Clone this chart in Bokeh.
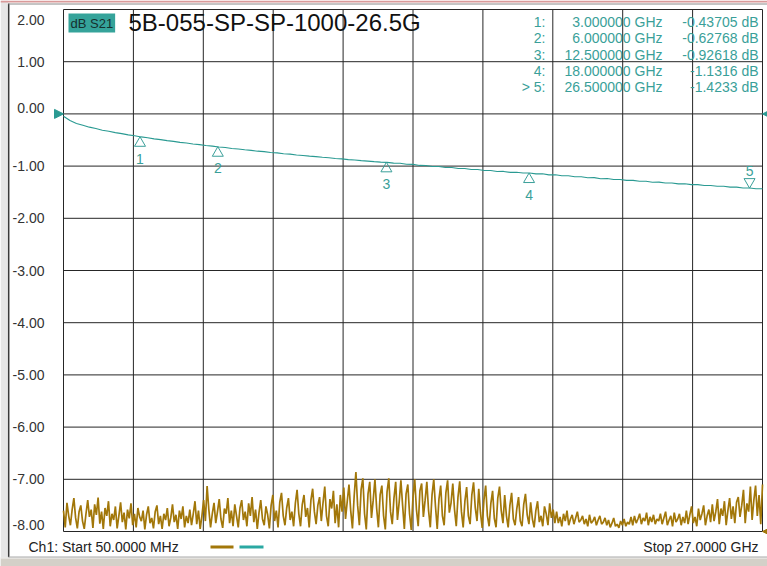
import numpy as np
from bokeh.plotting import figure
from bokeh.models import Range1d, Label, Arrow, NormalHead, ColumnDataSource
from bokeh.core.properties import value
from bokeh.embed import file_html
from bokeh.resources import INLINE

# ---------------- data ----------------
start_ghz = 0.05
stop_ghz = 27.0
y_ticks = [2, 1, 0, -1, -2, -3, -4, -5, -6, -7, -8]
y_tick_labels = ["2.00", "1.00", "0.00", "-1.00", "-2.00", "-3.00", "-4.00",
                 "-5.00", "-6.00", "-7.00", "-8.00"]

# S21 trace (dB) at evenly spaced sweep points
s21_db = [
    -0.045, -0.128, -0.183, -0.218, -0.254, -0.281, -0.312, -0.333, -0.359, -0.378,
    -0.402, -0.419, -0.441, -0.457, -0.478, -0.492, -0.512, -0.526, -0.545, -0.557,
    -0.576, -0.588, -0.606, -0.617, -0.634, -0.645, -0.662, -0.671, -0.688, -0.698,
    -0.714, -0.722, -0.739, -0.746, -0.763, -0.770, -0.788, -0.796, -0.808, -0.818,
    -0.831, -0.840, -0.854, -0.862, -0.876, -0.884, -0.896, -0.905, -0.915, -0.924,
    -0.929, -0.943, -0.946, -0.965, -0.966, -0.987, -0.988, -1.007, -1.008, -1.026,
    -1.028, -1.046, -1.047, -1.065, -1.066, -1.085, -1.084, -1.103, -1.102, -1.120,
    -1.118, -1.133, -1.131, -1.149, -1.148, -1.168, -1.166, -1.186, -1.184, -1.205,
    -1.203, -1.223, -1.221, -1.241, -1.238, -1.258, -1.256, -1.274, -1.274, -1.291,
    -1.291, -1.308, -1.307, -1.324, -1.323, -1.340, -1.339, -1.355, -1.355, -1.371,
    -1.371, -1.387, -1.387, -1.403, -1.402, -1.419, -1.419, -1.434, -1.435,
]

# second (gold) trace (dB), noisy band near the bottom, 15 points per GHz
trace2_db = [
    -7.60, -7.92, -7.45, -7.70, -7.88, -7.58, -7.36, -7.74, -7.94, -7.62, -7.50, -7.80, -7.95, -7.66, -7.40,
    -7.72, -7.58, -7.93, -7.48, -7.68, -7.35, -7.85, -7.62, -7.95, -7.55, -7.70, -7.42, -7.90, -7.66, -7.78,
    -7.52, -7.94, -7.70, -7.44, -7.82, -7.64, -7.96, -7.58, -7.75, -7.46, -7.88, -7.66, -7.92, -7.55, -7.72,
    -7.80, -7.60, -7.96, -7.68, -7.52, -7.84, -7.74, -7.94, -7.62, -7.50, -7.86, -7.70, -7.95, -7.66, -7.78,
    -7.55, -7.90, -7.74, -7.48, -7.82, -7.68, -7.95, -7.60, -7.76, -7.52, -7.92, -7.70, -7.84, -7.58, -7.88,
    -7.66, -7.42, -7.86, -7.60, -7.95, -7.70, -7.40, -7.80, -7.13, -7.58, -7.92, -7.66, -7.45, -7.84, -7.62,
    -7.38, -7.76, -7.93, -7.56, -7.66, -7.36, -7.84, -7.60, -7.90, -7.48, -7.70, -7.92, -7.55, -7.40, -7.78,
    -7.62, -7.90, -7.46, -7.70, -7.34, -7.82, -7.58, -7.95, -7.64, -7.40, -7.76, -7.88, -7.52, -7.68, -7.94,
    -7.50, -7.30, -7.80, -7.60, -7.92, -7.44, -7.26, -7.70, -7.88, -7.55, -7.36, -7.78, -7.62, -7.90, -7.46,
    -7.20, -7.66, -7.90, -7.48, -7.30, -7.72, -7.55, -7.92, -7.40, -7.18, -7.62, -7.86, -7.50, -7.34, -7.80,
    -7.45, -7.14, -7.70, -7.90, -7.38, -7.56, -7.22, -7.84, -7.48, -7.92, -7.30, -7.62, -7.16, -7.76, -7.42,
    -7.10, -7.60, -7.94, -7.32, -6.86, -7.50, -7.88, -7.20, -6.98, -7.66, -7.96, -7.28, -7.05, -7.74, -7.40,
    -7.00, -7.56, -7.92, -7.30, -7.12, -7.70, -7.96, -7.24, -6.98, -7.62, -7.86, -7.36, -7.05, -7.78, -7.44,
    -7.02, -7.50, -7.95, -7.28, -7.10, -7.66, -7.97, -7.34, -7.00, -7.58, -7.90, -7.22, -7.08, -7.72, -7.40,
    -7.05, -7.60, -7.92, -7.30, -7.00, -7.52, -7.95, -7.38, -7.12, -7.70, -7.88, -7.26, -7.02, -7.64, -7.45,
    -7.08, -7.58, -7.90, -7.34, -7.04, -7.62, -7.92, -7.42, -7.15, -7.70, -7.86, -7.30, -7.06, -7.55, -7.80,
    -7.18, -7.64, -7.93, -7.40, -7.12, -7.70, -7.90, -7.46, -7.22, -7.75, -7.92, -7.36, -7.14, -7.60, -7.84,
    -7.30, -7.70, -7.92, -7.50, -7.26, -7.76, -7.88, -7.56, -7.34, -7.80, -7.90, -7.48, -7.28, -7.68, -7.86,
    -7.44, -7.76, -7.92, -7.60, -7.42, -7.82, -7.70, -7.90, -7.52, -7.66, -7.88, -7.46, -7.74, -7.58, -7.84,
    -7.62, -7.84, -7.72, -7.90, -7.66, -7.80, -7.60, -7.88, -7.76, -7.68, -7.86, -7.74, -7.62, -7.82, -7.78,
    -7.70, -7.86, -7.76, -7.90, -7.68, -7.84, -7.80, -7.72, -7.88, -7.78, -7.70, -7.86, -7.82, -7.74, -7.88,
    -7.78, -7.92, -7.84, -7.74, -7.90, -7.86, -7.93, -7.80, -7.88, -7.76, -7.90, -7.82, -7.86, -7.72, -7.88,
    -7.70, -7.84, -7.76, -7.66, -7.86, -7.74, -7.80, -7.64, -7.88, -7.72, -7.82, -7.68, -7.86, -7.76, -7.80,
    -7.66, -7.86, -7.74, -7.62, -7.88, -7.78, -7.70, -7.90, -7.64, -7.82, -7.76, -7.66, -7.88, -7.72, -7.84,
    -7.60, -7.86, -7.68, -7.52, -7.84, -7.72, -7.90, -7.56, -7.78, -7.66, -7.50, -7.88, -7.70, -7.58, -7.82,
    -7.48, -7.80, -7.62, -7.38, -7.86, -7.56, -7.70, -7.42, -7.88, -7.60, -7.36, -7.76, -7.52, -7.84, -7.44,
    -7.34, -7.72, -7.50, -7.20, -7.84, -7.46, -7.62, -7.14, -7.78, -7.40, -7.12, -7.70, -7.30, -7.86, -7.10,
]

marker_ghz = [3.0, 6.0, 12.5, 18.0, 26.5]
marker_db = [-0.43705, -0.62768, -0.92618, -1.1316, -1.4233]
marker_names = ["1", "2", "3", "4", "5"]
marker_index = ["1:", "2:", "3:", "4:", "> 5:"]
marker_value_text = ["-0.43705 dB", "-0.62768 dB", "-0.92618 dB", "-1.1316 dB", "-1.4233 dB"]

title_text = "5B-055-SP-SP-1000-26.5G"
trace_tag = "dB S21"
start_text = "Ch1: Start 50.0000 MHz"
stop_text = "Stop 27.0000 GHz"

# sweep points (linear sweep from Start to Stop)
s21_ghz = np.linspace(start_ghz, stop_ghz, len(s21_db))
trace2_ghz = np.linspace(start_ghz, stop_ghz, len(trace2_db))

# ---------------- layout ----------------
W, H = 767, 566            # canvas
PL, PR = 63, 762           # graticule left / right (canvas px)
PT, PB = 9, 531            # graticule top / bottom (canvas px)
ymin, ymax = min(y_ticks), max(y_ticks)
ppg = (PR - PL) / (stop_ghz - start_ghz)
ppd = (PB - PT) / (ymax - ymin)


def X(px):
    """canvas pixel column -> data x (for window decorations only)"""
    return start_ghz + (px - PL) / ppg


def Y(py):
    """canvas pixel row -> data y (for window decorations only)"""
    return ymax - (py - PT) / ppd


TEAL = "#2A9A92"
TEAL_TXT = "#3A9F99"
TEAL_BOX = "#35A39A"
GOLD = "#A27709"
GRID = "#262626"
FONT = "Liberation Sans"

xr = Range1d(X(0), X(W))
yr = Range1d(Y(H), Y(0))

p = figure(width=W, height=H, x_range=xr, y_range=yr,
           x_axis_location=None, y_axis_location=None,
           output_backend="svg", toolbar_location=None, min_border=0,
           background_fill_color="white", border_fill_color="white")
p.title.visible = False
p.outline_line_color = None
p.xgrid.visible = False
p.ygrid.visible = False

# window chrome: left strip, left edge, top edge, status bar
p.quad(left=[X(0)], right=[X(7.5)], top=[Y(0)], bottom=[Y(H)], fill_color="#E6E6E6", line_color=None)
p.segment(x0=[X(8.2)], y0=[Y(557)], x1=[X(8.2)], y1=[Y(3)], line_color="#3A3A3A", line_width=1.5)
p.segment(x0=[X(0)], y0=[Y(1)], x1=[X(W)], y1=[Y(1)], line_color="#D99A9A", line_width=2)
p.segment(x0=[X(8)], y0=[Y(3.5)], x1=[X(W)], y1=[Y(3.5)], line_color="#8A8A8A", line_width=1)
p.quad(left=[X(0)], right=[X(W)], top=[Y(557)], bottom=[Y(H)], fill_color="#D4D0C8", line_color=None)
p.segment(x0=[X(0)], y0=[Y(557.5)], x1=[X(W)], y1=[Y(557.5)], line_color="#F4F4F4", line_width=1)
p.segment(x0=[X(8)], y0=[Y(556.5)], x1=[X(W)], y1=[Y(556.5)], line_color="#A8A8A8", line_width=1)

# graticule
x_grid_ticks = [start_ghz + k * (stop_ghz - start_ghz) / 10 for k in range(11)]
p.segment(x0=x_grid_ticks, y0=[ymin] * len(x_grid_ticks), x1=x_grid_ticks,
          y1=[ymax] * len(x_grid_ticks), line_color=GRID, line_width=1)
p.segment(x0=[start_ghz] * len(y_ticks), y0=y_ticks, x1=[stop_ghz] * len(y_ticks), y1=y_ticks,
          line_color=GRID, line_width=1)

# scale labels
nudge = {2: 10, 0: -6, -8: -7}
lsrc = ColumnDataSource(dict(x=[start_ghz] * len(y_ticks), y=y_ticks, t=y_tick_labels,
                             yoff=[nudge.get(t, 0) for t in y_ticks]))
p.text(x="x", y="y", text="t", y_offset="yoff", x_offset=-19, source=lsrc,
       text_align="right", text_baseline="middle", text_font=value(FONT),
       text_font_size="14px", text_color="#333333")

# traces
p.line(trace2_ghz, trace2_db, line_color=GOLD, line_width=1.7)
p.line(s21_ghz, s21_db, line_color=TEAL, line_width=1.1)

# markers
up = [i for i in range(len(marker_ghz)) if i < 4]
p.scatter(x=[marker_ghz[i] for i in up], y=[marker_db[i] - 6.4 / ppd for i in up],
          marker="triangle", size=11, fill_color=None, line_color=TEAL_TXT, line_width=1)
p.scatter(x=[marker_ghz[4]], y=[marker_db[4] + 6.4 / ppd], marker="inverted_triangle",
          size=11, fill_color=None, line_color=TEAL_TXT, line_width=1)
msrc = ColumnDataSource(dict(x=marker_ghz, y=marker_db, t=marker_names,
                             yoff=[22, 21, 22, 22, -17]))
p.text(x="x", y="y", text="t", y_offset="yoff", source=msrc, text_align="center",
       text_baseline="middle", text_font=value(FONT), text_font_size="14px", text_color=TEAL_TXT)

# reference level arrows
p.add_layout(Arrow(end=NormalHead(size=9, fill_color=TEAL, line_color=TEAL),
                   x_start=start_ghz - 1.0, y_start=0, x_end=start_ghz, y_end=0, line_alpha=0))
p.add_layout(Arrow(end=NormalHead(size=9, fill_color=TEAL, line_color=TEAL),
                   x_start=stop_ghz + 1.0, y_start=0, x_end=stop_ghz, y_end=0, line_alpha=0))
p.add_layout(Arrow(end=NormalHead(size=9, fill_color=GOLD, line_color=GOLD),
                   x_start=stop_ghz + 1.0, y_start=ymin, x_end=stop_ghz, y_end=ymin, line_alpha=0))

# marker readout table
rows = list(range(len(marker_ghz)))
rsrc = ColumnDataSource(dict(
    x=[stop_ghz] * len(rows), y=[ymax] * len(rows),
    idx=marker_index,
    fr=[f"{f:.6f} GHz" for f in marker_ghz],
    val=marker_value_text,
    yoff=[12.5 + 16.3 * i for i in rows]))
for col, xo in (("idx", -217), ("fr", -100), ("val", -4)):
    p.text(x="x", y="y", text=col, x_offset=xo, y_offset="yoff", source=rsrc,
           text_align="right", text_baseline="middle", text_font=value(FONT),
           text_font_size="14px", text_color=TEAL_TXT)

# title & trace tag
p.add_layout(Label(x=start_ghz, y=ymax, x_offset=5, y_offset=-13.5, text=trace_tag,
                   text_align="left", text_baseline="middle", text_font=FONT,
                   text_font_size="13px", text_color="#16302E",
                   background_fill_color=TEAL_BOX, background_fill_alpha=1, padding=2))
p.add_layout(Label(x=start_ghz, y=ymax, x_offset=65, y_offset=-12.5, text=title_text,
                   text_align="left", text_baseline="middle", text_font=FONT,
                   text_font_size="24px", text_color="#111111"))

# status line
p.add_layout(Label(x=start_ghz, y=ymin, x_offset=-35, y_offset=-15, text=start_text,
                   text_align="left", text_baseline="middle", text_font=FONT,
                   text_font_size="14px", text_color="#222222"))
p.add_layout(Label(x=stop_ghz, y=ymin, x_offset=-4, y_offset=-15, text=stop_text,
                   text_align="right", text_baseline="middle", text_font=FONT,
                   text_font_size="14px", text_color="#222222"))

# trace colour keys in the status line
p.segment(x0=[X(210), X(239)], y0=[Y(546.5)] * 2, x1=[X(233), X(263)], y1=[Y(546.5)] * 2,
          line_color=[GOLD, "#2AA8A2"], line_width=3)

open("out.html", "w").write(file_html(p, INLINE))
